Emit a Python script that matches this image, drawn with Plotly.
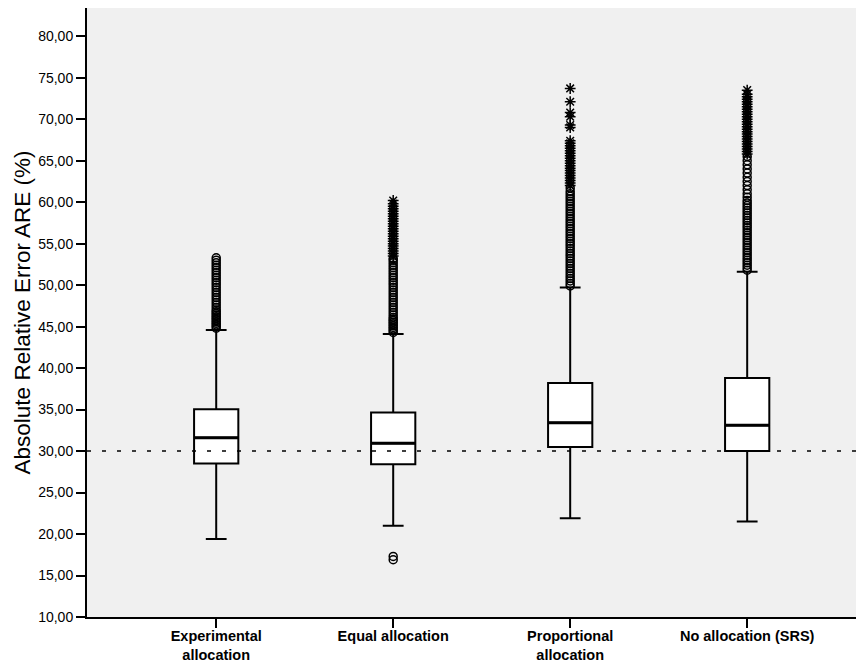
import plotly.graph_objects as go

# ---------------- data ----------------
categories = ["Experimental<br>allocation", "Equal allocation", "Proportional<br>allocation", "No allocation (SRS)"]
q1 = [28.5, 28.4, 30.5, 30.0]
median = [31.6, 30.95, 33.4, 33.1]
q3 = [35.05, 34.65, 38.2, 38.8]
lower_whisker = [19.4, 21.0, 21.9, 21.5]
upper_whisker = [44.6, 44.1, 49.7, 51.6]

# outliers (circles) and extremes (asterisks), per category
exp_outliers = [44.8, 45.0, 45.2, 45.4, 45.6, 45.8, 46.0, 46.2, 46.4, 46.6, 46.8, 47.0, 47.3, 47.6,
                47.9, 48.2, 48.5, 48.8, 49.1, 49.4, 49.7, 50.0, 50.3, 50.6, 50.9, 51.2, 51.5, 51.8,
                52.1, 52.4, 52.7, 53.0, 53.3]
exp_extremes = []
eq_outliers = [16.9, 17.3, 44.3, 44.5, 44.7, 44.9, 45.1, 45.3, 45.5, 45.7, 45.9, 46.1, 46.4, 46.7,
               47.0, 47.3, 47.6, 47.9, 48.2, 48.5, 48.8, 49.1, 49.4, 49.7, 50.0, 50.3, 50.6, 50.9,
               51.2, 51.5, 51.8, 52.1, 52.4, 52.7, 53.0, 53.2]
eq_extremes = [53.5, 53.8, 54.1, 54.4, 54.7, 55.0, 55.3, 55.6, 55.9, 56.2, 56.5, 56.8, 57.1, 57.4,
               57.7, 58.0, 58.3, 58.6, 58.9, 59.2, 59.5, 59.8, 60.2]
prop_outliers = [49.9, 50.2, 50.5, 50.8, 51.1, 51.4, 51.7, 52.0, 52.3, 52.6, 52.9, 53.2, 53.5, 53.8,
                 54.1, 54.4, 54.7, 55.0, 55.3, 55.6, 55.9, 56.2, 56.5, 56.8, 57.1, 57.4, 57.7, 58.0,
                 58.3, 58.6, 58.9, 59.2, 59.5, 59.8, 60.1, 60.4, 60.7, 61.0, 61.3, 61.7]
prop_extremes = [62.0, 62.3, 62.6, 62.9, 63.2, 63.5, 63.8, 64.1, 64.4, 64.7, 65.0, 65.3, 65.6, 65.9,
                 66.2, 66.5, 66.8, 67.1, 67.4, 69.0, 69.3, 70.3, 70.8, 72.1, 73.7]
no_outliers = [51.8, 52.1, 52.4, 52.7, 53.0, 53.3, 53.6, 53.9, 54.2, 54.5, 54.8, 55.1, 55.4, 55.7,
               56.0, 56.3, 56.6, 56.9, 57.2, 57.5, 57.8, 58.1, 58.4, 58.7, 59.0, 59.3, 59.6, 59.9,
               60.2, 60.6, 61.0, 61.5, 62.0, 62.5, 63.0, 63.5, 64.0, 64.5, 65.0, 65.5]
no_extremes = [65.8, 66.1, 66.4, 66.7, 67.0, 67.3, 67.6, 67.9, 68.2, 68.5, 68.8, 69.1, 69.4, 69.7,
               70.0, 70.3, 70.6, 70.9, 71.2, 71.5, 71.8, 72.1, 72.4, 72.7, 73.0, 73.5]

outliers = [exp_outliers, eq_outliers, prop_outliers, no_outliers]
extremes = [exp_extremes, eq_extremes, prop_extremes, no_extremes]

reference_value = 30.0
y_tick_values = [10, 15, 20, 25, 30, 35, 40, 45, 50, 55, 60, 65, 70, 75, 80]
y_tick_labels = ["10,00", "15,00", "20,00", "25,00", "30,00", "35,00", "40,00", "45,00",
                 "50,00", "55,00", "60,00", "65,00", "70,00", "75,00", "80,00"]
y_title = "Absolute Relative Error ARE (%)"

# ---------------- figure ----------------
BOX_WIDTH = 0.25
positions = list(range(len(categories)))
fig = go.Figure()

fig.add_trace(go.Box(
    x=positions, q1=q1, median=median, q3=q3,
    lowerfence=lower_whisker, upperfence=upper_whisker,
    boxpoints=False, fillcolor="white",
    line=dict(color="black", width=2),
    width=BOX_WIDTH, whiskerwidth=0.47, showlegend=False, hoverinfo="skip",
))

# thicker median bars (SPSS style), derived from the median data
mx, my = [], []
for i, m in enumerate(median):
    mx += [i - BOX_WIDTH / 2, i + BOX_WIDTH / 2, None]
    my += [m, m, None]
fig.add_trace(go.Scatter(x=mx, y=my, mode="lines", line=dict(color="black", width=3),
                         showlegend=False, hoverinfo="skip"))

ox, oy, ex, ey = [], [], [], []
for i, (o, e) in enumerate(zip(outliers, extremes)):
    ox += [i] * len(o)
    oy += o
    ex += [i] * len(e)
    ey += e

fig.add_trace(go.Scatter(
    x=ox, y=oy, mode="markers", showlegend=False,
    marker=dict(symbol="circle-open", size=8, color="black", line=dict(width=1.5, color="black")),
))
fig.add_trace(go.Scatter(
    x=ex, y=ey, mode="markers", showlegend=False,
    marker=dict(symbol="asterisk-open", size=9, color="black", line=dict(width=1.5, color="black")),
))

fig.add_shape(type="line", xref="paper", x0=0, x1=1, yref="y", y0=reference_value, y1=reference_value,
              line=dict(color="black", width=1.5, dash="4px,11px"), layer="above")

fig.update_layout(
    width=856, height=655,
    margin=dict(l=79, r=0, t=0, b=46),
    paper_bgcolor="white", plot_bgcolor="#f0f0f0",
    font=dict(family="Liberation Sans, Arial, sans-serif", color="black"),
    xaxis=dict(
        range=[-0.73, 3.66], tickvals=positions, ticktext=[f"<b>{c}</b>" for c in categories],
        showgrid=False, zeroline=False, showline=True, linecolor="black", linewidth=2, mirror=True,
        ticks="outside", ticklen=9, tickwidth=1.5, tickcolor="black", automargin=False,
        ticklabelstandoff=-4,
        tickfont=dict(family="Liberation Sans, Arial, sans-serif", size=14.5),
    ),
    yaxis=dict(
        range=[10, 83.4], tickvals=y_tick_values, ticktext=y_tick_labels,
        showgrid=False, zeroline=False, showline=True, linecolor="black", linewidth=2,
        ticks="outside", ticklen=9, tickwidth=1.5, tickcolor="black", automargin=False,
        tickfont=dict(size=14),
        title=dict(text=y_title, font=dict(size=22.5), standoff=1),
    ),
)

fig.write_html("out.html")
